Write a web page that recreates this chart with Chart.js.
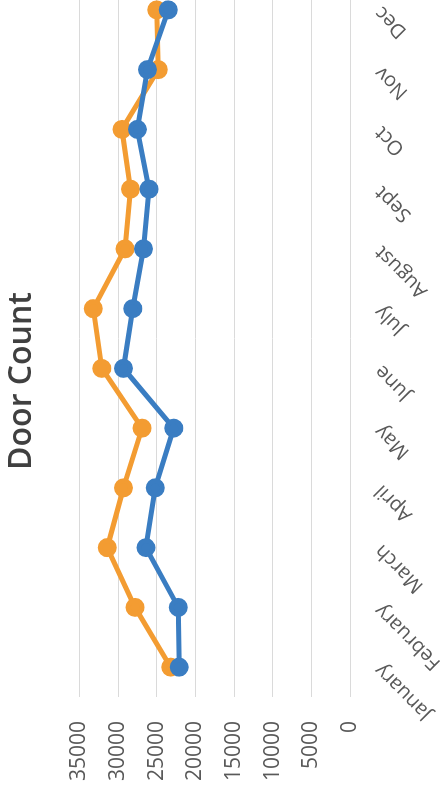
<!DOCTYPE html>
<html>
<head>
<meta charset="utf-8">
<script src="https://cdn.jsdelivr.net/npm/chart.js@4/dist/chart.umd.min.js"></script>
<style>
  html, body { margin: 0; padding: 0; background: #fff; overflow: hidden; width: 445px; height: 791px; }
  /* the chart is laid out landscape and turned a quarter turn counter-clockwise */
  #wrap { position: absolute; left: 0; top: 0; width: 832px; height: 445px;
          transform-origin: 0 0; transform: translate(0, 791px) rotate(-90deg); }
</style>
</head>
<body>
<div id="wrap"><canvas id="c" width="832" height="445"></canvas></div>
<script>
// Monthly door counts, two series
const months = ['January', 'February', 'March', 'April', 'May', 'June', 'July', 'August', 'Sept', 'Oct', 'Nov', 'Dec'];
const countsBlue   = [22100, 22200, 26400, 25200, 22800, 29300, 28100, 26700, 26000, 27500, 26200, 23500];
const countsOrange = [23200, 27800, 31400, 29300, 26900, 32100, 33200, 29100, 28400, 29500, 24800, 25000];
const valueMin = 0;
const valueMax = 35000;
const valueStep = 5000;

const FONT = "'Open Sans', 'DejaVu Sans', sans-serif";

new Chart(document.getElementById('c'), {
  type: 'line',
  data: {
    labels: months,
    datasets: [
      {
        label: 'Series 1',
        data: countsBlue,
        borderColor: '#3a7dc2',
        backgroundColor: '#3a7dc2',
        borderWidth: 5,
        pointRadius: 7,
        pointHoverRadius: 7,
        tension: 0
      },
      {
        label: 'Series 2',
        data: countsOrange,
        borderColor: '#f39c32',
        backgroundColor: '#f39c32',
        borderWidth: 5,
        pointRadius: 7,
        pointHoverRadius: 7,
        tension: 0
      }
    ]
  },
  options: {
    responsive: false,
    animation: false,
    devicePixelRatio: 1,
    layout: { padding: { left: 9, right: 21, top: 0, bottom: 0 } },
    plugins: {
      legend: { display: false },
      tooltip: { enabled: false },
      title: {
        display: true,
        text: 'Door Count',
        color: '#404040',
        font: { family: FONT, size: 32, weight: '600', lineHeight: 1.2 },
        padding: { top: 3, bottom: 38 }
      }
    },
    scales: {
      x: {
        offset: true,
        grid: { display: false, drawTicks: false },
        border: { display: false },
        ticks: {
          color: '#595959',
          font: { family: FONT, size: 20 },
          minRotation: 45,
          maxRotation: 45,
          padding: 20,
          autoSkip: false
        },
        afterFit: (scale) => { scale.height = 95; }
      },
      y: {
        min: valueMin,
        max: valueMax,
        grid: { color: '#dadada', lineWidth: 1, drawTicks: false },
        border: { display: false },
        ticks: {
          stepSize: valueStep,
          color: '#595959',
          font: { family: FONT, size: 21 },
          padding: 24,
          callback: (v) => String(v)
        },
        afterFit: (scale) => { scale.width = 85; }
      }
    }
  }
});
</script>
</body>
</html>
